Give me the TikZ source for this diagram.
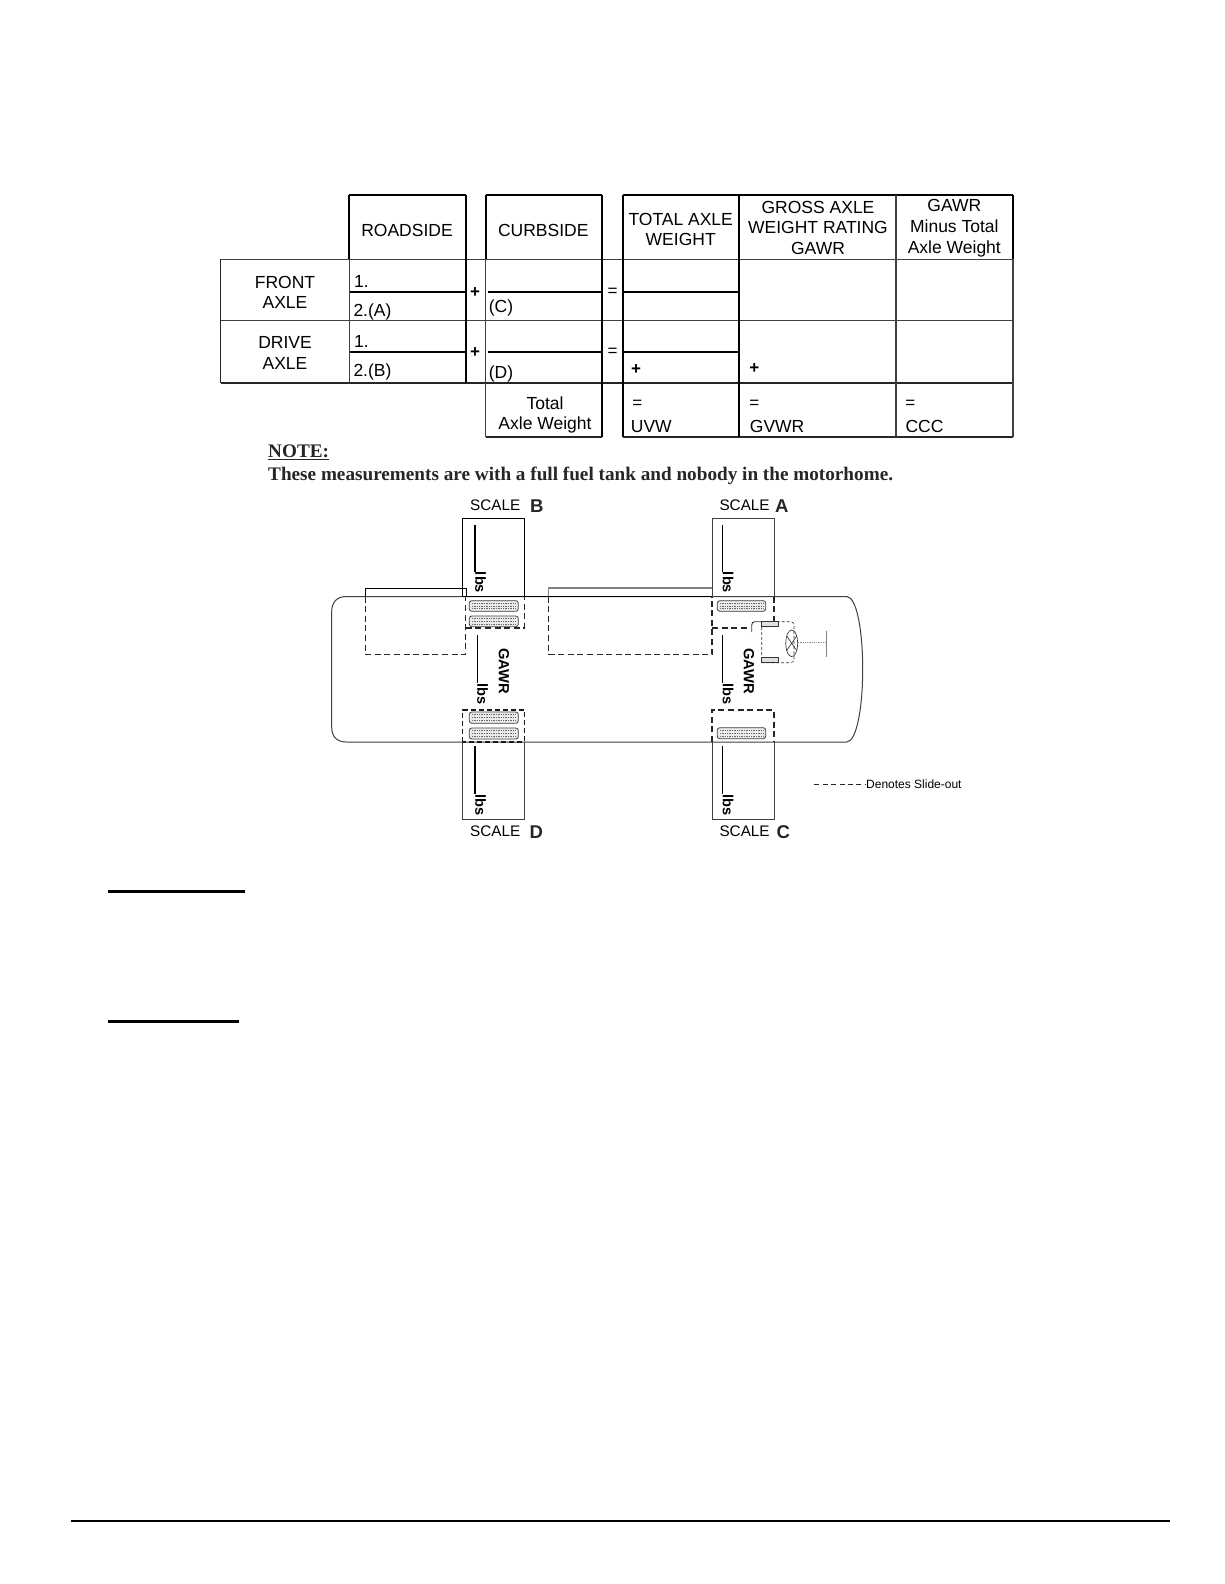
\documentclass[tikz,border=0pt]{standalone}
\usepackage{fontspec}
\setmainfont{Liberation Sans}
\newfontfamily\notefont{Liberation Serif}
\tikzset{
  x=1pt,y=-1pt,
  hv/.style={line width=1.9pt,black},
  th/.style={line width=1.2pt,black!75},
  md/.style={line width=1.5pt,black!85},
  tx/.style={font=\fontsize{17.5}{20}\selectfont,inner sep=0pt,text=black},
  txl/.style={tx,anchor=west},
  pm/.style={font=\fontsize{17}{20}\selectfont\bfseries,inner sep=0pt},
  eqs/.style={font=\fontsize{17}{20}\selectfont,inner sep=0pt},
  body/.style={line width=1pt,black!75},
  scalebox/.style={line width=1pt,black!75},
  slide/.style={line width=1.3pt,black!85,dash pattern=on 6pt off 3.6pt},
  slideh/.style={line width=1.5pt,black!90,dash pattern=on 5pt off 3pt},
  lbsline/.style={line width=1.6pt,black},
  lbs/.style={font=\fontsize{14.6}{15}\selectfont\bfseries,rotate=-90,inner sep=0pt},
  gawr/.style={font=\fontsize{14.7}{16}\selectfont\bfseries,rotate=-90,inner sep=0pt},
  sc/.style={font=\fontsize{15.3}{18}\selectfont,anchor=west,inner sep=0pt,text=black},
  scb/.style={font=\fontsize{18.5}{18}\selectfont\bfseries,anchor=west,inner sep=0pt,text=black!85},
  thin part/.style={line width=.65pt,black!80},
  tire/.style={line width=.8pt,black!75,rounded corners=2.5pt},
  bar/.style={line width=3pt,black},
}
\newcommand{\mytire}[4]{%
  \fill[black!8,rounded corners=2pt] (#1,#2) rectangle (#3,#4);
  \foreach \f in {.25,.5,.75}{
    \draw[black!60,line width=.8pt,dash pattern=on 1.4pt off 1pt]
      ({#1+2.5},{#2+\f*(#4-#2)}) -- ({#3-2.5},{#2+\f*(#4-#2)});}
  \draw[tire] (#1,#2) rectangle (#3,#4);
}
\begin{document}
\begin{tikzpicture}
\useasboundingbox (0,0) rectangle (1224,1584);
\fill[white] (0,0) rectangle (1224,1584);

% table: thin horizontal rules
\draw[th] (220.7,259.3) -- (1013,259.3);
\draw[th] (220.7,320.5) -- (1013,320.5);
\draw[md] (220.7,383) -- (1013,383);
\draw[md] (485.7,437) -- (602,437) (623,437) -- (1013,437);
\draw[hv] (349.3,195) -- (466,195) (485.7,195) -- (602,195) (623,195) -- (1013,195);
% inner heavy rules
\foreach \yy in {291.7,351.7}{
  \draw[hv] (349.3,\yy) -- (466,\yy) (487.5,\yy) -- (602,\yy) (623,\yy) -- (739,\yy);
}
% verticals
\draw[md] (220.7,259.3) -- (220.7,383);
\draw[hv] (349.3,195) -- (349.3,259.3);
\draw[th] (349.3,259.3) -- (349.3,383);
\draw[hv] (466,195) -- (466,383);
\draw[hv] (485.7,195) -- (485.7,259.3);
\draw[th] (485.7,259.3) -- (485.7,437);
\draw[hv] (602,195) -- (602,437);
\draw[hv] (623,195) -- (623,437);
\draw[hv] (739,195) -- (739,437);
\draw[th] (896,195) -- (896,437);
\draw[hv] (1013,195) -- (1013,259.3);
\draw[th] (1013,259.3) -- (1013,437);

% header text
\node[tx] (roadside) at (407,230) {ROADSIDE};
\node[tx] (curbside) at (543.3,230) {CURBSIDE};
\node[tx] (tot1) at (680.7,219) {TOTAL AXLE};
\node[tx] (tot2) at (680.7,239.3) {WEIGHT};
\node[tx] (gr1) at (818,207) {GROSS AXLE};
\node[tx] (gr2) at (818,227.7) {WEIGHT RATING};
\node[tx] (gr3) at (818,248.3) {GAWR};
\node[tx] (mi1) at (954.3,205) {GAWR};
\node[tx] (mi2) at (954.3,226.3) {Minus Total};
\node[tx] (mi3) at (954.3,248.5) {Axle Weight};
% row labels
\node[tx] (fa1) at (285,282) {FRONT};
\node[tx] (fa2) at (285,302.7) {AXLE};
\node[tx] (da1) at (285,342.3) {DRIVE};
\node[tx] (da2) at (285,363.3) {AXLE};
\node[txl] (r1) at (354,281) {1.};
\node[txl] (r2) at (353.3,311.5) {2.(A)};
\node[txl] (r3) at (354,341.7) {1.};
\node[txl] (r4) at (353.3,372) {2.(B)};
\node[txl] (c1) at (488.7,307.7) {(C)};
\node[txl] (c2) at (488.7,374) {(D)};
\node[pm] (p1) at (475,292.3) {+};
\node[pm] (p2) at (475,352.7) {+};
\node[eqs] (e1) at (612.7,292.5) {=};
\node[eqs] (e2) at (612.7,352.5) {=};
\node[pm] (p3) at (636,369.5) {+};
\node[pm] (p4) at (754.3,368.5) {+};
\node[tx] (ta1) at (545,403.3) {Total};
\node[tx] (ta2) at (545,424.7) {Axle Weight};
\node[eqs] (e3) at (637.3,404.3) {=};
\node[eqs] (e4) at (754.3,404.3) {=};
\node[eqs] (e5) at (910.3,404.3) {=};
\node[txl] (uvw) at (630.7,426.7) {UVW};
\node[txl] (gvwr) at (749.7,426.7) {GVWR};
\node[txl] (ccc) at (905.3,426.7) {CCC};

% note
\node[font=\notefont\bfseries\fontsize{19.2}{20}\selectfont,anchor=base west,inner sep=0pt,text=black!85] (note) at (268,457.5) {NOTE:};
\draw[line width=1pt,black!85] (268,459.5) -- (328.5,459.5);
\node[font=\notefont\bfseries\fontsize{19.2}{20}\selectfont,anchor=base west,inner sep=0pt,text=black!85] (notetext) at (268,480.5) {These measurements are with a full fuel tank and nobody in the motorhome.};

% motorhome body
\draw[body] (346.7,596.5) -- (846.7,596.5)
  .. controls (857,597) and (862.7,632) .. (862.7,669)
  .. controls (862.7,706) and (857,741.5) .. (846.7,742)
  -- (346.7,742) .. controls (337,742) and (331.7,737) .. (331.7,727)
  -- (331.7,611.5) .. controls (331.7,602) and (337,596.5) .. (346.7,596.5) -- cycle;

% scale boxes
\draw[scalebox,black] (462.7,596.5) -- (462.7,518.3) -- (524.3,518.3) -- (524.3,596.5);
\draw[scalebox] (462.7,742) -- (462.7,819.7) -- (524.3,819.7) -- (524.3,742);
\draw[scalebox] (712,596.5) -- (712,518.3) -- (774,518.3) -- (774,596.5);
\draw[scalebox] (712,742) -- (712,819.7) -- (774,819.7) -- (774,742);

% slide-outs
\draw[line width=1.1pt,black] (365.3,596.5) -- (365.3,588.3) -- (466.7,588.3) -- (466.7,596.5);
\draw[line width=1.2pt,black!50] (548.7,596.5) -- (548.7,588) -- (712,588);
\draw[line width=1pt,black] (462.7,596.5) -- (712,596.5);
\draw[slide] (365.3,596.5) -- (365.3,654.3) -- (465.7,654.3) -- (465.7,596.5);
\draw[slide] (548.7,596.5) -- (548.7,654.3) -- (712,654.3) -- (712,596.5);
\draw[slide] (465.7,628) -- (524.3,628) -- (524.3,596.5);
\draw[slide] (712,628) -- (750,628);
\draw[slide] (774,596.5) -- (774,621.5);
\draw[slideh] (462.7,742) -- (462.7,710) -- (524.3,710) -- (524.3,742) -- cycle;
\draw[slide] (712,742) -- (712,710) -- (774,710) -- (774,742);

% tires
\mytire{469.3}{600.7}{518.3}{611.3}
\mytire{469.3}{616}{518.3}{626.7}
\mytire{469.3}{712}{518.3}{723.3}
\mytire{469.3}{728}{518.3}{739}
\mytire{717.3}{600.7}{765.7}{611.3}
\mytire{717.3}{727.7}{765.7}{738.7}

% driver seat and wheel
\draw[line width=.9pt,black!80] (751.7,632) -- (751.7,625) .. controls (751.7,622.5) and (753,621.7) .. (755,621.7) -- (761.7,621.7);
\draw[thin part,densely dashed] (761.7,621.7) -- (790,621.7) .. controls (793,621.7) and (794,623) .. (794,626) -- (794,659)
  .. controls (794,661.5) and (793,662.7) .. (790,662.7) -- (761.7,662.7) -- (761.7,621.7);
\draw[thin part,fill=black!12] (761.7,621.7) rectangle (778.3,626.7);
\draw[thin part,fill=black!12] (761.7,657.3) rectangle (778.3,662.3);
\draw[thin part] (791.7,643.3) ellipse [x radius=6,y radius=13.3];
\draw[thin part] (786.7,636) -- (796.7,650.5) (796.7,636) -- (786.7,650.5);
\draw[black!45,line width=.8pt,densely dotted] (797.7,642.7) -- (826,642.7);
\draw[black!50,line width=.65pt] (826,630.7) -- (826,656.7);

% weight lines
\draw[lbsline] (474.7,525) -- (474.7,571.7);
\draw[lbsline] (477.3,635) -- (477.3,682.7);
\draw[lbsline] (474.7,746) -- (474.7,794);
\draw[lbsline] (722.3,525) -- (722.3,571.7);
\draw[lbsline] (722.3,635) -- (722.3,682.7);
\draw[lbsline] (722.3,746) -- (722.3,794);
\node[lbs] (lb1) at (480.5,582.5) {lbs};
\node[lbs] (lb2) at (482.5,694) {lbs};
\node[lbs] (lb3) at (480.5,805) {lbs};
\node[lbs] (lb4) at (728,582.5) {lbs};
\node[lbs] (lb5) at (728,694) {lbs};
\node[lbs] (lb6) at (728,805) {lbs};
\node[gawr] (ga1) at (504,671.2) {GAWR};
\node[gawr] (ga2) at (749,671.2) {GAWR};

% scale labels
\node[sc] (sb) at (470,505.7) {SCALE};
\node[scb] (sbl) at (530,505.7) {B};
\node[sc] (sa) at (719.3,505.7) {SCALE};
\node[scb] (sal) at (775,506.5) {A};
\node[sc] (sd) at (470,831.7) {SCALE};
\node[scb] (sdl) at (529.5,832) {D};
\node[sc] (sc1) at (719.3,831.7) {SCALE};
\node[scb] (scl) at (776.5,832.5) {C};

% legend
\coordinate (lg) at (814.3,784.3);
\node[font=\fontsize{12}{14}\selectfont,anchor=west,inner sep=0pt] (den) at (866,784.3) {Denotes Slide-out};
\draw[line width=.8pt,black!85,dash pattern=on 5pt off 3.4pt] (lg) -- (den.west);

% page rules
\draw[bar] (108,891.3) -- (245,891.3);
\draw[bar] (108,1021.3) -- (239,1021.3);
\draw[line width=2pt,black] (70.7,1521) -- (1170,1521);
\end{tikzpicture}
\end{document}
